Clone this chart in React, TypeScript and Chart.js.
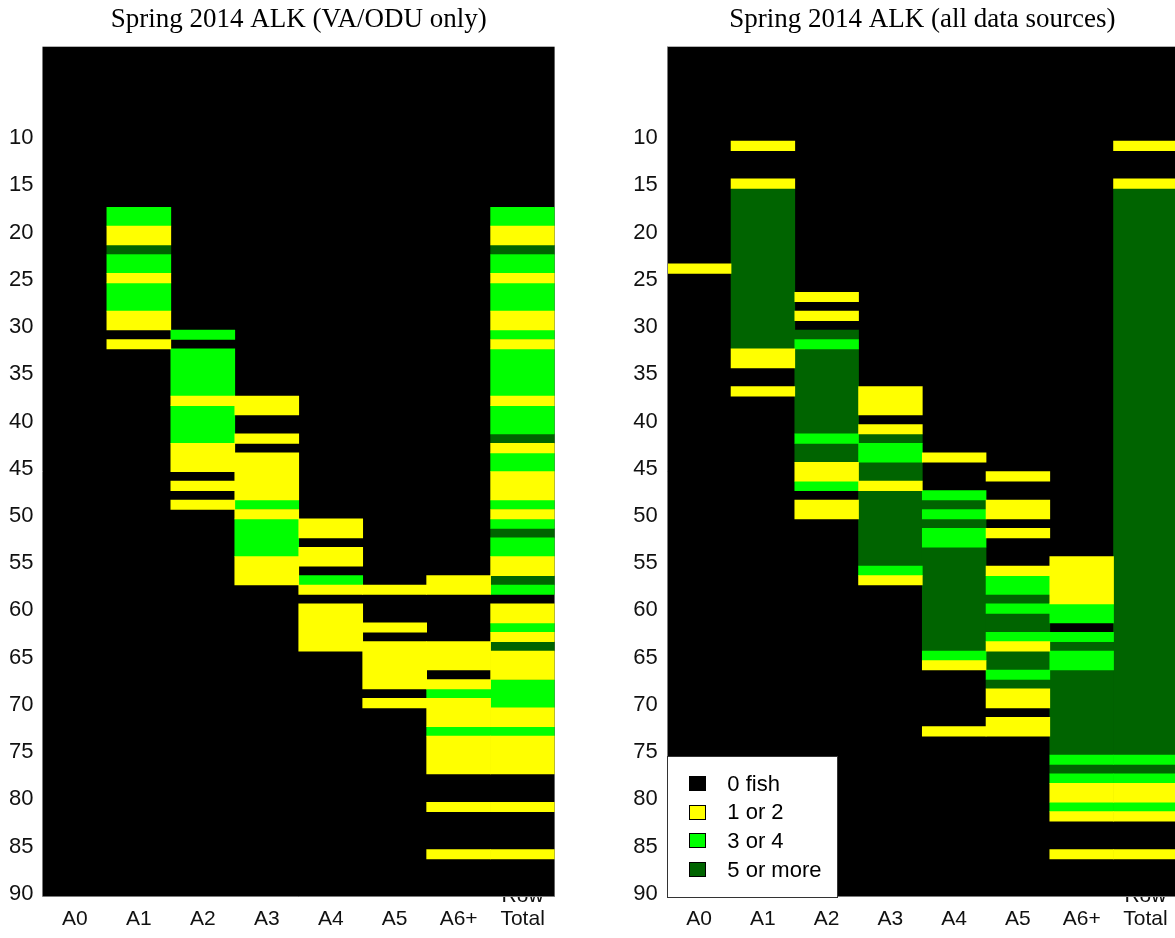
import React, { useEffect, useRef } from "react";
import { Chart, registerables } from "chart.js";

Chart.register(...registerables);
Chart.defaults.font.family = '"Liberation Sans", Arial, sans-serif';

// A run of fish-length rows: [from length, to length, count level]
// level 1 = "1 or 2", 2 = "3 or 4", 3 = "5 or more" (0 fish = background)
type Run = [number, number, number];

const ageClasses = ["A0", "A1", "A2", "A3", "A4", "A5", "A6+", "Row Total"];
const lengthTicks = [10, 15, 20, 25, 30, 35, 40, 45, 50, 55, 60, 65, 70, 75, 80, 85, 90];
const lengthMin = 0;
const lengthMax = 90;
const legendLabels = ["0 fish", "1 or 2", "3 or 4", "5 or more"];
const levelColors = ["#000000", "#ffff00", "#00ff00", "#006400"];
const titles = ["Spring 2014 ALK (VA/ODU only)", "Spring 2014 ALK (all data sources)"];

// ---- Spring 2014 ALK, VA/ODU only ----
const vaA0: Run[] = [];
const vaA1: Run[] = [[17, 19, 2], [19, 21, 1], [21, 22, 3], [22, 24, 2], [24, 25, 1], [25, 28, 2], [28, 30, 1], [31, 32, 1]];
const vaA2: Run[] = [[30, 31, 2], [32, 37, 2], [37, 38, 1], [38, 42, 2], [42, 45, 1], [46, 47, 1], [48, 49, 1]];
const vaA3: Run[] = [[37, 39, 1], [41, 42, 1], [43, 48, 1], [48, 49, 2], [49, 50, 1], [50, 54, 2], [54, 57, 1]];
const vaA4: Run[] = [[50, 52, 1], [53, 55, 1], [56, 57, 2], [57, 58, 1], [59, 64, 1]];
const vaA5: Run[] = [[57, 58, 1], [61, 62, 1], [63, 68, 1], [69, 70, 1]];
const vaA6: Run[] = [[56, 58, 1], [63, 66, 1], [67, 68, 1], [68, 69, 2], [69, 72, 1], [72, 73, 2], [73, 77, 1], [80, 81, 1], [85, 86, 1]];
const vaTotal: Run[] = [
  [17, 19, 2], [19, 21, 1], [21, 22, 3], [22, 24, 2], [24, 25, 1], [25, 28, 2], [28, 30, 1], [30, 31, 2],
  [31, 32, 1], [32, 37, 2], [37, 38, 1], [38, 41, 2], [41, 42, 3], [42, 43, 1], [43, 45, 2], [45, 48, 1],
  [48, 49, 2], [49, 50, 1], [50, 51, 2], [51, 52, 3], [52, 54, 2], [54, 56, 1], [56, 57, 3], [57, 58, 2],
  [59, 61, 1], [61, 62, 2], [62, 63, 1], [63, 64, 3], [64, 67, 1], [67, 70, 2], [70, 72, 1], [72, 73, 2],
  [73, 77, 1], [80, 81, 1], [85, 86, 1],
];
const vaColumns = [vaA0, vaA1, vaA2, vaA3, vaA4, vaA5, vaA6, vaTotal];

// ---- Spring 2014 ALK, all data sources ----
const allA0: Run[] = [[23, 24, 1]];
const allA1: Run[] = [[10, 11, 1], [14, 15, 1], [15, 32, 3], [32, 34, 1], [36, 37, 1]];
const allA2: Run[] = [[26, 27, 1], [28, 29, 1], [30, 31, 3], [31, 32, 2], [32, 41, 3], [41, 42, 2], [42, 44, 3], [44, 46, 1], [46, 47, 2], [48, 50, 1]];
const allA3: Run[] = [[36, 39, 1], [40, 41, 1], [41, 42, 3], [42, 44, 2], [44, 46, 3], [46, 47, 1], [47, 55, 3], [55, 56, 2], [56, 57, 1]];
const allA4: Run[] = [[43, 44, 1], [47, 48, 2], [48, 49, 3], [49, 50, 2], [50, 51, 3], [51, 53, 2], [53, 64, 3], [64, 65, 2], [65, 66, 1], [72, 73, 1]];
const allA5: Run[] = [
  [45, 46, 1], [48, 50, 1], [51, 52, 1], [55, 56, 1], [56, 58, 2], [58, 59, 3], [59, 60, 2], [60, 62, 3],
  [62, 63, 2], [63, 64, 1], [64, 66, 3], [66, 67, 2], [67, 68, 3], [68, 70, 1], [71, 73, 1],
];
const allA6: Run[] = [
  [54, 59, 1], [59, 61, 2], [62, 63, 2], [63, 64, 3], [64, 66, 2], [66, 75, 3], [75, 76, 2], [76, 77, 3],
  [77, 78, 2], [78, 80, 1], [80, 81, 2], [81, 82, 1], [85, 86, 1],
];
const allTotal: Run[] = [[10, 11, 1], [14, 15, 1], [15, 75, 3], [75, 76, 2], [76, 77, 3], [77, 78, 2], [78, 80, 1], [80, 81, 2], [81, 82, 1], [85, 86, 1]];
const allColumns = [allA0, allA1, allA2, allA3, allA4, allA5, allA6, allTotal];

const CANVAS_H = 938;

function buildDatasets(columns: Run[][]) {
  return [1, 2, 3].map((level) => ({
    label: legendLabels[level],
    backgroundColor: levelColors[level],
    data: columns.flatMap((runs, col) =>
      runs.filter((r) => r[2] === level).map((r) => ({ x: ageClasses[col], y: [r[0], r[1]] }))
    ),
  }));
}

function decorPlugin(showLegend: boolean) {
  return {
    id: "panelDecor",
    beforeDatasetsDraw(chart: any) {
      const { ctx, chartArea: a } = chart;
      ctx.save();
      ctx.fillStyle = levelColors[0];
      ctx.fillRect(a.left, a.top, a.right - a.left, a.bottom - a.top);
      ctx.restore();
    },
    afterDatasetsDraw(chart: any) {
      const { ctx, chartArea: a } = chart;
      ctx.save();
      ctx.strokeStyle = "#7a7a7a";
      ctx.lineWidth = 1;
      const lx = Math.floor(a.left) + 0.5;
      const by = Math.floor(a.bottom) + 0.5;
      ctx.beginPath();
      ctx.moveTo(lx, a.top);
      ctx.lineTo(lx, by);
      ctx.lineTo(a.right, by);
      ctx.stroke();

      if (showLegend) {
        const bx = Math.round(a.left) + 0.5;
        const bt = Math.round(a.bottom - 141) + 0.5;
        const bw = 170;
        const bh = 141;
        ctx.fillStyle = "#ffffff";
        ctx.fillRect(bx, bt, bw, bh);
        ctx.strokeStyle = "#333333";
        ctx.strokeRect(bx, bt, bw, bh);
        ctx.font = '22px "Liberation Sans", Arial, sans-serif';
        ctx.textBaseline = "middle";
        ctx.textAlign = "left";
        legendLabels.forEach((lab, i) => {
          const cy = a.bottom - 113 + i * 28.6;
          const sx = Math.round(a.left + 22);
          const sy = Math.round(cy - 7.5);
          ctx.fillStyle = levelColors[i];
          ctx.fillRect(sx, sy, 17, 15);
          ctx.strokeStyle = "#000000";
          ctx.strokeRect(sx + 0.5, sy + 0.5, 16, 14);
          ctx.fillStyle = "#000000";
          ctx.fillText(lab, a.left + 60, cy + 1);
        });
      }
      ctx.restore();
    },
  };
}

type PanelProps = {
  left: number;
  width: number;
  axisWidth: number;
  plotWidth: number;
  title: string;
  columns: Run[][];
  legend: boolean;
};

function Panel({ left, width, axisWidth, plotWidth, title, columns, legend }: PanelProps) {
  const ref = useRef<HTMLCanvasElement>(null);
  useEffect(() => {
    const canvas = ref.current;
    if (!canvas) return;
    const chart = new Chart(canvas, {
      type: "bar",
      data: { labels: ageClasses, datasets: buildDatasets(columns) as any },
      options: {
        responsive: false,
        animation: false,
        devicePixelRatio: 1,
        events: [],
        layout: { padding: { left: 0, right: width - axisWidth - plotWidth, top: 0, bottom: 0 } },
        datasets: { bar: { barPercentage: 1, categoryPercentage: 1, grouped: false, borderWidth: 0 } } as any,
        plugins: {
          legend: { display: false },
          tooltip: { enabled: false },
          title: {
            display: true,
            text: title,
            fullSize: false,
            color: "#000000",
            font: { family: '"Liberation Serif", "Times New Roman", serif', size: 27, weight: "normal", lineHeight: 1.2 },
            padding: { top: 3.8, bottom: 10.5 },
          },
        },
        scales: {
          x: {
            type: "category",
            grid: { display: false, drawTicks: false },
            border: { display: false },
            ticks: {
              autoSkip: false,
              maxRotation: 0,
              minRotation: 0,
              crossAlign: "far",
              padding: 0,
              color: "#111111",
              font: { size: 21, lineHeight: 1.08 },
              callback: (_v: any, i: number) => ageClasses[i].split(" "),
            },
            afterFit: (s: any) => {
              s.height = CANVAS_H - 896.7;
            },
          },
          y: {
            type: "linear",
            reverse: true,
            min: lengthMin,
            max: lengthMax,
            grid: { display: false, drawTicks: false },
            border: { display: false },
            afterBuildTicks: (s: any) => {
              s.ticks = lengthTicks.map((v) => ({ value: v }));
            },
            ticks: {
              padding: 9.5,
              labelOffset: -3,
              color: "#111111",
              font: { size: 22 },
            },
            afterFit: (s: any) => {
              s.width = axisWidth;
            },
          },
        },
      } as any,
      plugins: [decorPlugin(legend)],
    });
    return () => chart.destroy();
  }, []);
  return (
    <canvas
      ref={ref}
      width={width}
      height={CANVAS_H}
      style={{ position: "absolute", left, top: 0, width, height: CANVAS_H, display: "block" }}
    />
  );
}

export default function App() {
  return (
    <div
      style={{
        position: "fixed",
        left: 0,
        top: 0,
        width: 1175,
        height: 938,
        overflow: "hidden",
        background: "#ffffff",
      }}
    >
      <Panel left={0} width={600} axisWidth={42.9} plotWidth={511.7} title={titles[0]} columns={vaColumns} legend={false} />
      <Panel left={620} width={600} axisWidth={47.3} plotWidth={510} title={titles[1]} columns={allColumns} legend={true} />
    </div>
  );
}
